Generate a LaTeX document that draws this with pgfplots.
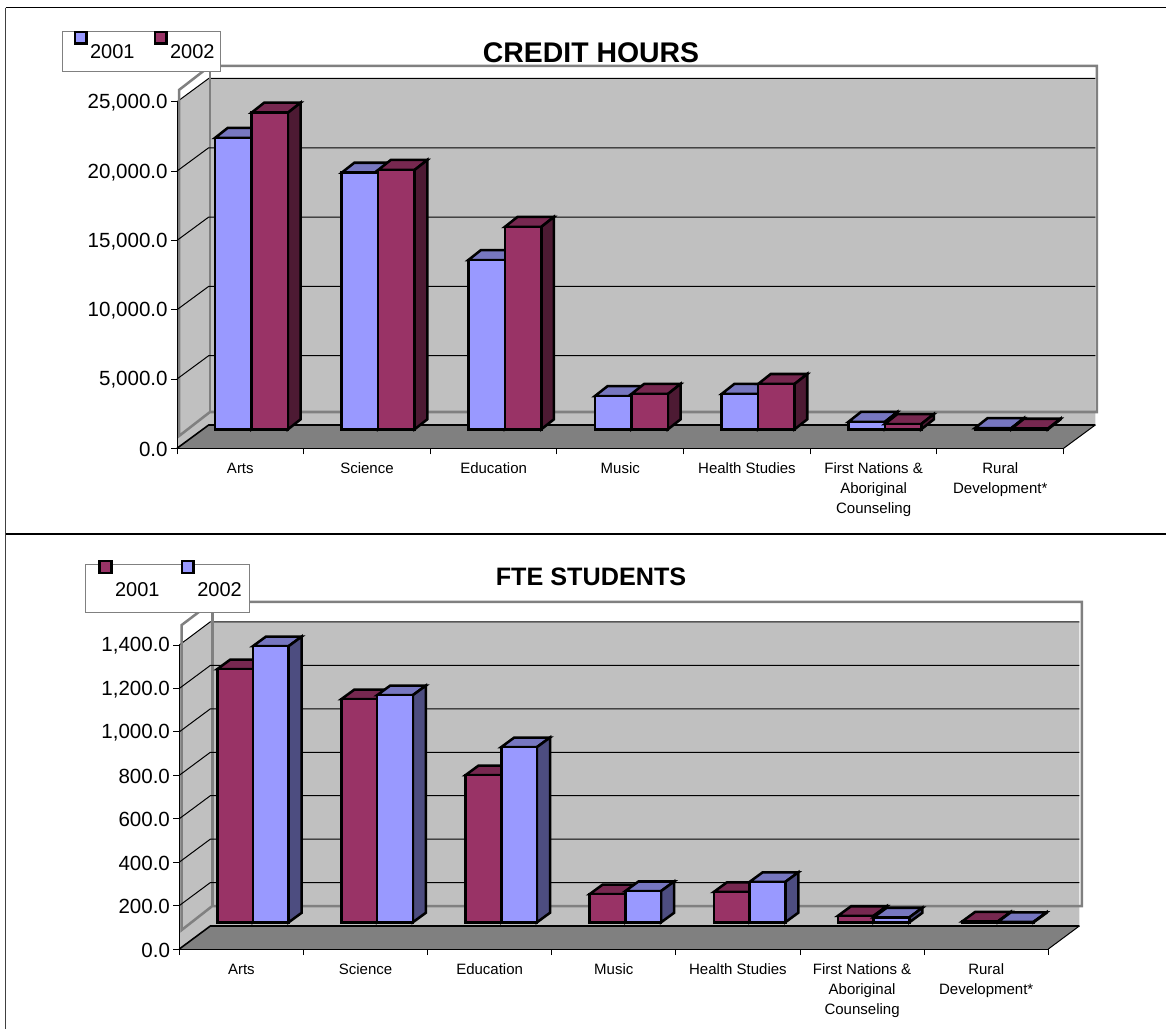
\documentclass[border=0pt]{standalone}
\usepackage{fontspec}
\setmainfont{Liberation Sans}
\usepackage{pgfplots}
\usepackage{pgfplotstable}
\pgfplotsset{compat=1.18}

\definecolor{peri}{HTML}{9999FF}
\definecolor{peritop}{HTML}{7777C0}
\definecolor{periside}{HTML}{4D4D80}
\definecolor{plum}{HTML}{993366}
\definecolor{plumtop}{HTML}{772850}
\definecolor{plumside}{HTML}{4D1A33}
\definecolor{wall}{HTML}{C0C0C0}
\definecolor{floorgray}{HTML}{808080}

% values per category
\pgfplotstableread{
yA yB
21020 22840
18510 18710
12210 14600
2400 2550
2550 3270
530 380
90 40
}\credits
\pgfplotstableread{
yA yB
1166 1272
1028 1046
678 807
130 144
140 186
30 23
4 2
}\fte

% one 3D bar: category, slot, value, front, top, side
\newcommand{\prism}[6]{%
  \edef\xa{\fpeval{#1+\barx+#2*\barw}}%
  \edef\xb{\fpeval{\xa+\barw}}%
  \edef\xc{\fpeval{\xb+\bdx}}%
  \edef\xd{\fpeval{\xa+\bdx}}%
  \edef\ya{\fpeval{\bary+#3}}%
  \edef\yb{\fpeval{\ya+\bdy}}%
  \edef\yc{\fpeval{\bary+\bdy}}%
  \edef\temp{%
    \noexpand\addplot[barface,fill=#5] coordinates {(\xa,\ya)(\xb,\ya)(\xc,\yb)(\xd,\yb)} --cycle;
    \noexpand\addplot[barface,fill=#6] coordinates {(\xb,\bary)(\xc,\yc)(\xc,\yb)(\xb,\ya)} --cycle;
    \noexpand\addplot[barface,fill=#4] coordinates {(\xa,\bary)(\xb,\bary)(\xb,\ya)(\xa,\ya)} --cycle;
  }\temp
}
\newcommand{\gridat}[1]{%
  \edef\temp{\noexpand\addplot[forget plot,black,line width=0.75pt] coordinates
    {(0,#1)(\wdx,\fpeval{#1+\wdy})(\fpeval{7+\wdx},\fpeval{#1+\wdy})};}\temp
}
\newcommand{\allbars}[3]{%
  \pgfplotsinvokeforeach{0,...,6}{%
    \pgfplotstablegetelem{##1}{yA}\of{#1}\let\va\pgfplotsretval
    \pgfplotstablegetelem{##1}{yB}\of{#1}\let\vb\pgfplotsretval
    \prism{##1}{0}{\va}{#2}{#2top}{#2side}%
    \prism{##1}{1}{\vb}{#3}{#3top}{#3side}%
  }%
}

\pgfplotsset{
  barface/.style={forget plot,draw=black,line width=1.9pt,line join=miter},
  wallface/.style={forget plot,fill=wall,draw=none},
  wallframe/.style={forget plot,draw=floorgray,line width=1.9pt,line join=miter},
  chart/.style={
    scale only axis,clip=false,axis on top=true,anchor=south west,
    axis x line=bottom,axis y line=left,axis line style={-,line width=0.75pt},
    xmin=0,xmax=7,ymin=0,
    xtick={0.5,1.5,2.5,3.5,4.5,5.5,6.5},
    minor xtick={0,...,7},
    xticklabels={Arts,Science,Education,Music,Health Studies,{First Nations \&\\Aboriginal\\Counseling},{Rural\\Development*}},
    major x tick style={draw=none},
    minor x tick style={black,line width=0.75pt},
    y tick style={black,line width=0.75pt},
    major tick length=4.5pt,minor tick length=4.5pt,tick align=outside,
    x tick label style={font=\fontsize{11.25pt}{15pt}\selectfont,align=center,anchor=north,yshift=-3pt},
    y tick label style={font=\fontsize{15.4pt}{15.4pt}\selectfont,xshift=1pt,yshift=-0.8pt},
    yticklabel style={/pgf/number format/.cd,fixed,fixed zerofill,precision=1,1000 sep={,},assume math mode=true},
    scaled y ticks=false,
    legend columns=2,
    title style={anchor=base,yshift=-6pt},
  },
  % swatch sits above the text; #2 its lift, #3 extra room to its left, #4 room before the text
  swatch/.style n args={4}{legend image code/.code={
    \draw[overlay,fill=#1,draw=black,line width=1.9pt] (0.6pt,#2) rectangle ++(8.8pt,8.8pt);
    \path (-#3,0) (#4,0);}},
}

\begin{document}
\begin{tikzpicture}
\path[use as bounding box] (0,0) rectangle (874.5pt,-771.75pt);
\draw[line width=0.9pt,black!75] (4.125pt,-5.625pt) -- (4.125pt,-771.75pt);
\draw[line width=0.9pt,black] (4.125pt,-5.625pt) -- (874.5pt,-5.625pt);
\draw[line width=0.9pt,black] (4.125pt,-400.5pt) -- (874.5pt,-400.5pt);

% CREDIT HOURS
\def\barx{0.3}\def\bary{1371}\def\barw{0.288}\def\bdx{0.1}\def\bdy{721}
\def\wdx{0.25}\def\wdy{1681}
\begin{axis}[chart,at={(132.75pt,-336.225pt)},
  width=664.95pt,height=259.9pt,ymax=25000,
  ytick={0,5000,10000,15000,20000,25000},
  title={\fontsize{21.3pt}{21.3pt}\selectfont\bfseries CREDIT HOURS},
  title style={at={(0.467,1.112)}},
  legend style={at={(-0.130,1.205)},anchor=north west,draw=floorgray,line width=0.75pt,
    inner xsep=4.3pt,inner ysep=0pt,font=\fontsize{15pt}{15pt}\selectfont,
    nodes={inner xsep=0pt,inner ysep=0pt,text height=20.5pt,text depth=9.75pt},
    /tikz/every even column/.append style={column sep=10.1pt}}]
\addplot[wallface] coordinates {(0,0)(0.25,1681)(7.25,1681)(7.25,26681)(0.25,26681)(0,25000)} --cycle;
\addplot[forget plot,black,line width=0.75pt] coordinates {(0,25000)(0.25,26681)(7.25,26681)};
\addplot[wallframe] coordinates {(0.016,887)(0.016,25852)(0.2605,27584)(7.263,27584)(7.263,2619)(0.2605,2619)} --cycle;
\addplot[wallframe] coordinates {(0.2605,27584)(0.2605,2619)};
\gridat{5000}\gridat{10000}\gridat{15000}\gridat{20000}
\addplot[forget plot,fill=floorgray,draw=none] coordinates {(0,0)(7,0)(7.25,1681)(0.25,1681)} --cycle;
\addplot[forget plot,black,line width=1.2pt] coordinates {(0,0)(0.25,1681)(7.25,1681)};
\addplot[forget plot,black,line width=0.75pt] coordinates {(7,0)(7.25,1681)};
\allbars{\credits}{peri}{plum}
\addlegendimage{swatch={peri}{5.8pt}{4.2pt}{11.6pt}}\addlegendentry{2001}
\addlegendimage{swatch={plum}{5.8pt}{4.2pt}{11.6pt}}\addlegendentry{2002}
\end{axis}

% FTE STUDENTS
\def\barx{0.306}\def\bary{123}\def\barw{0.2876}\def\bdx{0.105}\def\bdy{44}
\def\wdx{0.25}\def\wdy{106}
\begin{axis}[chart,at={(134.475pt,-711.75pt)},
  width=651.75pt,height=228pt,ymax=1400,
  ytick={0,200,400,600,800,1000,1200,1400},
  title={\fontsize{18.9pt}{18.9pt}\selectfont\bfseries FTE STUDENTS},
  title style={at={(0.4738,1.197)}},
  legend style={at={(-0.108,1.266)},anchor=north west,draw=floorgray,line width=0.75pt,
    inner xsep=5.5pt,inner ysep=0pt,font=\fontsize{15pt}{15pt}\selectfont,
    nodes={inner xsep=0pt,inner ysep=0pt,text height=24pt,text depth=12pt},
    /tikz/every even column/.append style={column sep=12pt}}]
\addplot[wallface] coordinates {(0,0)(0.25,106)(7.25,106)(7.25,1507)(0.25,1507)(0,1400)} --cycle;
\addplot[forget plot,black,line width=0.75pt] coordinates {(0,1400)(0.25,1507)(7.25,1507)};
\addplot[wallframe] coordinates {(0.019,87.5)(0.019,1492)(0.266,1599)(7.27,1599)(7.27,198)(0.266,198)} --cycle;
\addplot[wallframe] coordinates {(0.266,1599)(0.266,198)};
\gridat{200}\gridat{400}\gridat{600}\gridat{800}\gridat{1000}\gridat{1200}
\addplot[forget plot,fill=floorgray,draw=none] coordinates {(0,0)(7,0)(7.25,106)(0.25,106)} --cycle;
\addplot[forget plot,black,line width=1.2pt] coordinates {(0,0)(0.25,106)(7.25,106)};
\addplot[forget plot,black,line width=0.75pt] coordinates {(7,0)(7.25,106)};
\allbars{\fte}{plum}{peri}
\addlegendimage{swatch={plum}{11.8pt}{3.8pt}{11.8pt}}\addlegendentry{2001}
\addlegendimage{swatch={peri}{11.8pt}{3.8pt}{11.8pt}}\addlegendentry{2002}
\end{axis}
\end{tikzpicture}
\end{document}
